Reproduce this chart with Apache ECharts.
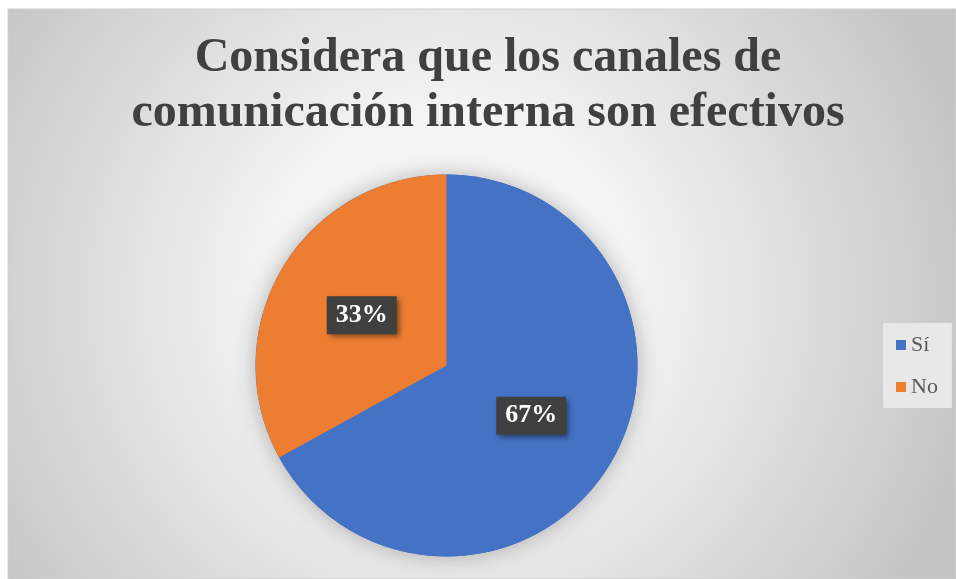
<!DOCTYPE html>
<html>
<head>
<meta charset="utf-8">
<script src="https://cdn.jsdelivr.net/npm/echarts@6/dist/echarts.min.js"></script>
<style>
  html, body { margin: 0; padding: 0; background: #ffffff; }
  #chart { width: 956px; height: 579px; }
</style>
</head>
<body>
<div id="chart"></div>
<script>
// Survey answers and their shares (percent)
const titleLines = ['Considera que los canales de', 'comunicación interna son efectivos'];
const categories = ['Sí', 'No'];
const shares = [67, 33];
const sliceColors = ['#4472C4', '#ED7D31'];

const serif = '"Liberation Serif", "Times New Roman", serif';

const chart = echarts.init(document.getElementById('chart'), null, { renderer: 'canvas' });

const option = {
  backgroundColor: '#ffffff',
  animation: false,
  graphic: [
    {
      // chart area with a soft radial fill
      type: 'rect',
      z: -10,
      silent: true,
      shape: { x: 8, y: 9, width: 948, height: 570 },
      style: {
        fill: {
          type: 'radial', x: 0.465, y: 0.5, r: 0.95,
          colorStops: [
            { offset: 0, color: '#ffffff' },
            { offset: 0.35, color: '#f3f3f3' },
            { offset: 1, color: '#c4c4c4' }
          ]
        },
        stroke: '#cfcfcf',
        lineWidth: 1
      }
    }
  ],
  title: {
    text: titleLines.join('\n'),
    left: 488,
    top: 31,
    textAlign: 'center',
    padding: 0,
    textStyle: {
      fontFamily: serif,
      fontWeight: 'bold',
      fontSize: 48,
      lineHeight: 55,
      color: '#404040'
    }
  },
  legend: {
    orient: 'vertical',
    left: 883,
    top: 323,
    padding: [11, 14, 10, 13],
    itemGap: 20,
    itemWidth: 10,
    itemHeight: 10,
    icon: 'rect',
    backgroundColor: '#e8e8e8',
    data: categories,
    textStyle: {
      fontFamily: serif,
      fontSize: 22,
      color: '#595959'
    }
  },
  series: [
    {
      // backdrop disc carrying the drop shadow
      type: 'pie',
      silent: true,
      center: [446.5, 365.5],
      radius: 191,
      z: 1,
      label: { show: false },
      labelLine: { show: false },
      itemStyle: {
        color: '#4472C4',
        shadowBlur: 22,
        shadowColor: 'rgba(0,0,0,0.28)'
      },
      data: [{ name: 'shadow', value: 1 }]
    },
    {
      type: 'pie',
      center: [446.5, 365.5],
      radius: 191,
      startAngle: 90,
      clockwise: true,
      z: 2,
      itemStyle: { borderWidth: 0 },
      label: {
        show: true,
        position: 'inside',
        formatter: '{c}%',
        fontFamily: serif,
        fontWeight: 'bold',
        fontSize: 26,
        lineHeight: 26,
        color: '#ffffff',
        backgroundColor: '#404040',
        padding: [6, 9],
        shadowColor: 'rgba(0,0,0,0.45)',
        shadowBlur: 5,
        shadowOffsetX: 3,
        shadowOffsetY: 3
      },
      labelLine: { show: false },
      data: categories.map((name, i) => ({
        name: name,
        value: shares[i],
        itemStyle: { color: sliceColors[i] }
      }))
    }
  ]
};

chart.setOption(option);
</script>
</body>
</html>
